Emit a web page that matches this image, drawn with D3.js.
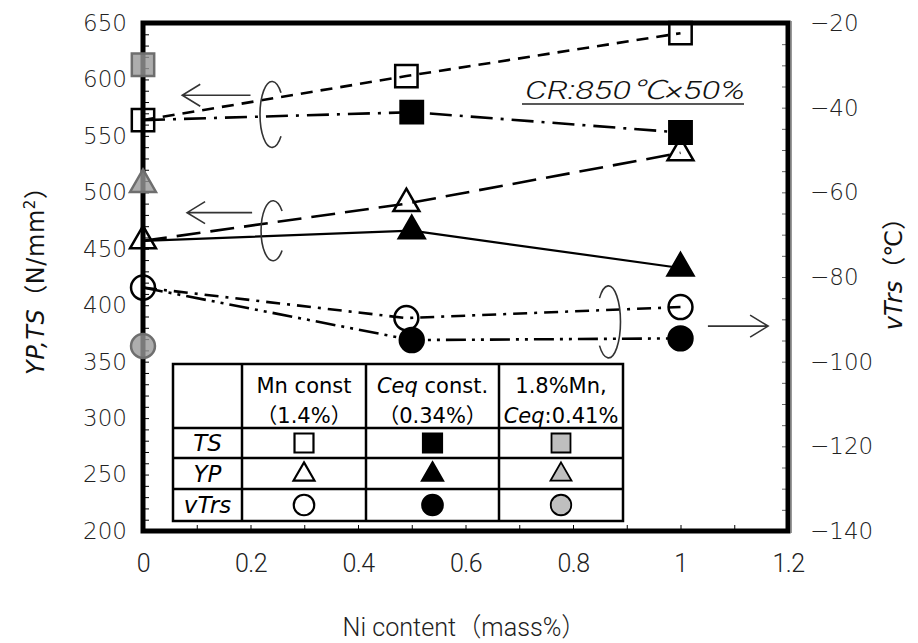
<!DOCTYPE html>
<html lang="ja">
<head>
<meta charset="utf-8">
<title>Ni content vs YP, TS, vTrs</title>
<script src="https://d3js.org/d3.v7.min.js"></script>
<style>
  html, body { margin: 0; padding: 0; background: #fff; }
  svg { display: block; background: #fff; }
  .tick text { fill: #222; }
</style>
</head>
<body>
<script>
// --- data ---
var xMn  = [0, 0.49, 1];     // Mn const (1.4%)
var xCeq = [0, 0.5, 1];      // Ceq const (0.34%)
var tsMn   = [564, 603, 641];
var tsCeq  = [564, 571, 553];
var ypMn   = [457, 490, 535];
var ypCeq  = [457, 466, 433];
var vtrsMn  = [-82.5, -89.7, -87.1];
var vtrsCeq = [-82.5, -94.9, -94.5];
// 1.8%Mn, Ceq:0.41% (only at Ni = 0)
var xGray = [0];
var tsGray = [613];
var ypGray = [507];
var vtrsGray = [-96.3];

var leftTicks  = [200, 250, 300, 350, 400, 450, 500, 550, 600, 650];
var rightTicks = [-140, -120, -100, -80, -60, -40, -20];
var xTicks     = [0, 0.2, 0.4, 0.6, 0.8, 1, 1.2];

var W = 918, H = 643;
var L = 143, R = 788, T = 23, B = 531;

var svg = d3.select("body").append("svg").attr("width", W).attr("height", H);

var x  = d3.scaleLinear().domain([0, 1.2]).range([L, R]);
var yL = d3.scaleLinear().domain([200, 650]).range([B, T]);
var yR = d3.scaleLinear().domain([-140, -20]).range([B, T]);

var numFont = "'DejaVu Sans', sans-serif";
var thinFont = "Roboto, 'DejaVu Sans', sans-serif";
var jpFont = "'DejaVu Sans', 'Noto Sans CJK JP', sans-serif";

// 目盛（内向き）
svg.append("g").attr("transform", "translate(" + L + ",0)")
  .call(d3.axisRight(yL).tickValues(d3.range(200, 651, 10)).tickSize(6).tickFormat(""))
  .call(function(g){ g.select(".domain").remove(); });
svg.append("g").attr("transform", "translate(" + R + ",0)")
  .call(d3.axisLeft(yR).tickValues(d3.range(-140, -19, 5)).tickSize(6).tickFormat(""))
  .call(function(g){ g.select(".domain").remove(); g.selectAll("line").attr("stroke", "#666"); });
svg.append("g").attr("transform", "translate(0," + B + ")")
  .call(d3.axisTop(x).tickValues(d3.range(0, 12.1, 1).map(function(d){ return d / 10; })).tickSize(6).tickFormat(""))
  .call(function(g){ g.select(".domain").remove(); });

// 目盛ラベル
svg.append("g").attr("transform", "translate(" + L + ",0)")
  .call(d3.axisLeft(yL).tickValues(leftTicks).tickSize(0).tickPadding(16))
  .call(function(g){ g.select(".domain").remove(); })
  .selectAll("text").style("font-family", numFont).style("font-size", "23px").style("font-weight", "300");
svg.append("g").attr("transform", "translate(" + R + ",0)")
  .call(d3.axisRight(yR).tickValues(rightTicks).tickSize(0).tickPadding(22)
        .tickFormat(function(d){ return String(d).replace("-", "\u2212"); }))
  .call(function(g){ g.select(".domain").remove(); })
  .selectAll("text").style("font-family", numFont).style("font-size", "23px").style("font-weight", "300");
svg.append("g").attr("transform", "translate(0," + B + ")")
  .call(d3.axisBottom(x).tickValues(xTicks).tickSize(0).tickPadding(23).tickFormat(d3.format("")))
  .call(function(g){ g.select(".domain").remove(); })
  .selectAll("text").style("font-family", thinFont).style("font-weight", "300")
  .style("font-size", "25px").style("letter-spacing", "-0.5px");

// 軸タイトル
svg.append("text").attr("x", (L + R) / 2 - 1).attr("y", 636)
  .attr("text-anchor", "middle")
  .attr("textLength", 244).attr("lengthAdjust", "spacingAndGlyphs")
  .style("font-family", "Roboto, 'Noto Sans CJK JP', sans-serif").style("font-weight", "300")
  .style("font-size", "26px").style("fill", "#222")
  .text("Ni content\uff08mass%\uff09");

var lt = svg.append("text").attr("transform", "translate(44,275) rotate(-90)")
  .attr("text-anchor", "middle").attr("textLength", 200).attr("lengthAdjust", "spacing")
  .style("font-family", jpFont).style("font-size", "24px").style("fill", "#111");
lt.append("tspan").style("font-style", "italic").text("YP,TS");
lt.append("tspan").text("\uff08N/mm");
lt.append("tspan").attr("dy", -9).style("font-size", "15px").text("2");
lt.append("tspan").attr("dy", 9).text("\uff09");

var rt = svg.append("text").attr("transform", "translate(902,268) rotate(-90)")
  .attr("text-anchor", "middle").style("font-family", jpFont).style("font-size", "24px").style("fill", "#111");
rt.append("tspan").style("font-style", "italic").text("vTrs");
rt.append("tspan").text("\uff08\u2103\uff09");

// 線
var lineL = function(xs){ return d3.line().x(function(d, i){ return x(xs[i]); }).y(function(d){ return yL(d); }); };
var lineR = function(xs){ return d3.line().x(function(d, i){ return x(xs[i]); }).y(function(d){ return yR(d); }); };

var series = [
  { v: tsMn,    xs: xMn,  ax: "L", dash: "12,8",            w: 2.6 },
  { v: tsCeq,   xs: xCeq, ax: "L", dash: "22,8,3,8",        w: 2.6 },
  { v: ypMn,    xs: xMn,  ax: "L", dash: "24,10",           w: 2.6 },
  { v: ypCeq,   xs: xCeq, ax: "L", dash: null,              w: 2.2 },
  { v: vtrsMn,  xs: xMn,  ax: "R", dash: "14,7,3,7",        w: 2.6 },
  { v: vtrsCeq, xs: xCeq, ax: "R", dash: "20,6,3,6,3,6",    w: 2.6 }
];
series.forEach(function(s){
  svg.append("path").datum(s.v)
    .attr("d", s.ax === "L" ? lineL(s.xs) : lineR(s.xs))
    .attr("fill", "none").attr("stroke", "#000").attr("stroke-width", s.w)
    .attr("stroke-dasharray", s.dash);
});

// 枠
svg.append("rect").attr("x", L).attr("y", T).attr("width", R - L).attr("height", B - T)
  .attr("fill", "none").attr("stroke", "#000").attr("stroke-width", 5);
svg.append("line").attr("x1", R + 3.5).attr("x2", R + 3.5).attr("y1", T - 2).attr("y2", B + 2)
  .attr("stroke", "#999").attr("stroke-width", 1);

// マーカー
var sq = d3.symbol().type(d3.symbolSquare).size(500)();
var tri = d3.symbol().type(d3.symbolTriangle).size(290)();
var cir = d3.symbol().type(d3.symbolCircle).size(450)();

function markers(vals, xs, scale, shape, fill, stroke, op){
  svg.append("g").selectAll("path").data(vals).enter().append("path")
    .attr("d", shape)
    .attr("transform", function(d, i){ return "translate(" + x(xs[i]) + "," + scale(d) + ")"; })
    .attr("fill", fill).attr("fill-opacity", op).attr("stroke", stroke).attr("stroke-width", 2.5);
}
markers(tsGray, xGray, yL, sq, "#999", "#6e6e6e", 0.8);
markers(ypGray, xGray, yL, tri, "#999", "#6e6e6e", 0.8);
markers(vtrsGray, xGray, yR, cir, "#999", "#6e6e6e", 0.8);
markers(tsMn, xMn, yL, sq, "none", "#000", 1);
markers(ypMn, xMn, yL, tri, "none", "#000", 1);
markers(vtrsMn, xMn, yR, cir, "none", "#000", 1);
markers(tsCeq.slice(1), xCeq.slice(1), yL, sq, "#000", "#000", 1);
markers(ypCeq.slice(1), xCeq.slice(1), yL, tri, "#000", "#000", 1);
markers(vtrsCeq.slice(1), xCeq.slice(1), yR, cir, "#000", "#000", 1);

// 注記：矢印と括弧
function arrow(x1, x2, y, dir){
  var hx = dir < 0 ? x1 : x2, s = dir < 0 ? 18 : -18;
  svg.append("path")
    .attr("d", "M" + x1 + "," + y + "L" + x2 + "," + y +
               "M" + (hx + s) + "," + (y - 11) + "L" + hx + "," + y + "L" + (hx + s) + "," + (y + 11))
    .attr("fill", "none").attr("stroke", "#333").attr("stroke-width", 1.6);
}
function bracket(cx, cy, rx, ry, left){
  var ex = left ? cx + rx * 0.75 : cx - rx * 0.75, ey = ry * 0.66;
  svg.append("path")
    .attr("d", "M" + ex + "," + (cy - ey) + "A" + rx + "," + ry + " 0 1," + (left ? 0 : 1) + " " + ex + "," + (cy + ey))
    .attr("fill", "none").attr("stroke", "#333").attr("stroke-width", 1.6);
}
arrow(x(0.073), x(0.2), yL(586), -1);
bracket(x(0.24), yL(569), 12, 33, true);
arrow(x(0.082), x(0.203), yL(482), -1);
bracket(x(0.242), yL(466), 12, 30, true);
arrow(x(1.051), x(1.163), yR(-91.6), 1);
bracket(x(0.866), yR(-90.6), 12, 36, false);

// CR 条件
svg.append("text").attr("x", 525).attr("y", 99)
  .attr("textLength", 220).attr("lengthAdjust", "spacingAndGlyphs")
  .style("font-family", "Roboto, 'Noto Sans CJK JP', sans-serif").style("font-style", "italic")
  .style("font-weight", "300").style("font-size", "26px").style("fill", "#111")
  .text("CR:850\u2103\u00d750%");
svg.append("line").attr("x1", 522).attr("x2", 744).attr("y1", 104).attr("y2", 104)
  .attr("stroke", "#222").attr("stroke-width", 1.5);

// 凡例の表
var colX = [173, 242, 366, 499, 623];
var rowY = [364, 428, 458, 489, 521];
var tb = svg.append("g");
tb.append("rect").attr("x", colX[0]).attr("y", rowY[0])
  .attr("width", colX[4] - colX[0]).attr("height", rowY[4] - rowY[0])
  .attr("fill", "#fff").attr("stroke", "#000").attr("stroke-width", 2.5);
colX.slice(1, 4).forEach(function(cx){
  tb.append("line").attr("x1", cx).attr("x2", cx).attr("y1", rowY[0]).attr("y2", rowY[4])
    .attr("stroke", "#000").attr("stroke-width", 2.5);
});
rowY.slice(1, 4).forEach(function(ry){
  tb.append("line").attr("x1", colX[0]).attr("x2", colX[4]).attr("y1", ry).attr("y2", ry)
    .attr("stroke", "#000").attr("stroke-width", 2.5);
});

var headers = [
  [[{ t: "Mn const" }], [{ t: "\uff081.4%\uff09" }]],
  [[{ t: "Ceq", i: true }, { t: " const." }], [{ t: "\uff080.34%\uff09" }]],
  [[{ t: "1.8%Mn," }], [{ t: "Ceq", i: true }, { t: ":0.41%" }]]
];
var rowNames = ["TS", "YP", "vTrs"];

headers.forEach(function(h, c){
  var cx = (colX[c + 1] + colX[c + 2]) / 2;
  h.forEach(function(line, k){
    var t = tb.append("text").attr("x", cx).attr("y", 393 + k * 30).attr("text-anchor", "middle")
      .style("font-family", jpFont).style("font-size", "21px").style("fill", "#000");
    line.forEach(function(p){
      t.append("tspan").style("font-style", p.i ? "italic" : "normal").text(p.t);
    });
  });
});
rowNames.forEach(function(n, r){
  tb.append("text").attr("x", (colX[0] + colX[1]) / 2).attr("y", (rowY[r + 1] + rowY[r + 2]) / 2 + 8)
    .attr("text-anchor", "middle").style("font-family", jpFont).style("font-style", "italic")
    .style("font-size", "23px").text(n);
});

var tsq = d3.symbol().type(d3.symbolSquare).size(360)();
var ttri = d3.symbol().type(d3.symbolTriangle).size(190)();
var tcir = d3.symbol().type(d3.symbolCircle).size(330)();
var tShapes = [tsq, ttri, tcir];
var tStyles = [
  { fill: "#fff", stroke: "#000" },
  { fill: "#000", stroke: "#000" },
  { fill: "#bfbfbf", stroke: "#000" }
];
tShapes.forEach(function(shape, r){
  tStyles.forEach(function(st, c){
    tb.append("path").attr("d", shape)
      .attr("transform", "translate(" + (colX[c + 1] + colX[c + 2]) / 2 + "," + ((rowY[r + 1] + rowY[r + 2]) / 2 + (r === 1 ? 1 : 0)) + ")")
      .attr("fill", st.fill).attr("stroke", st.stroke).attr("stroke-width", c === 2 ? 1.8 : 2.2);
  });
});
</script>
</body>
</html>
